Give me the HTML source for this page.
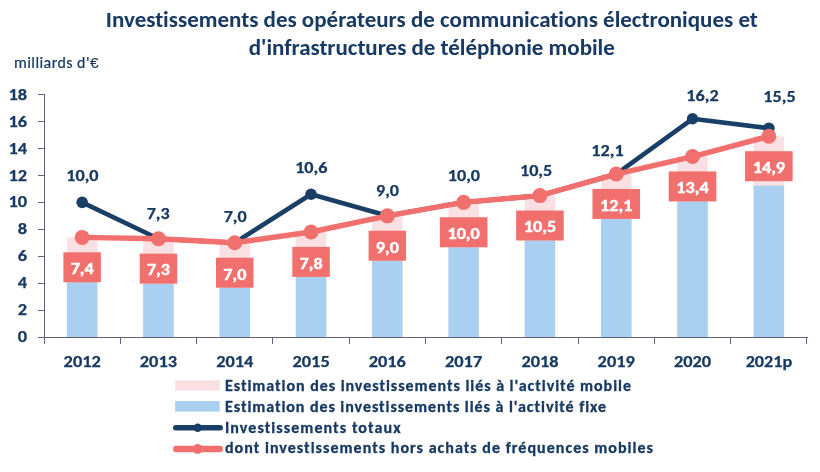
<!DOCTYPE html><html><head><meta charset="utf-8"><title>Investissements</title>
<style>html,body{margin:0;padding:0;background:#fff;width:820px;height:472px;overflow:hidden}svg{display:block}text{font-family:Carlito, 'Liberation Sans', sans-serif;font-variant-ligatures:none;font-feature-settings:"liga" 0,"clig" 0}</style></head><body>
<svg width="820" height="472" viewBox="0 0 820 472">
<rect width="820" height="472" fill="#fff"/>
<text x="431.8" y="26.9" text-anchor="middle" font-size="23" font-weight="bold" fill="#173963" textLength="652" lengthAdjust="spacing">Investissements des opérateurs de communications électroniques et</text>
<text x="431.8" y="54.8" text-anchor="middle" font-size="23" font-weight="bold" fill="#173963" textLength="366" lengthAdjust="spacing">d'infrastructures de téléphonie mobile</text>
<text x="14" y="67.6" font-size="16" fill="#173963" stroke="#173963" stroke-width="0.2" textLength="84.5" lengthAdjust="spacing">milliards d'<tspan font-family="'Liberation Sans', sans-serif" font-size="15.5">€</tspan></text>
<text x="27.0" y="342.2" text-anchor="end" font-size="16" font-weight="bold" fill="#173963" stroke="#173963" stroke-width="0.25" textLength="9.3" lengthAdjust="spacingAndGlyphs">0</text>
<text x="27.0" y="315.3" text-anchor="end" font-size="16" font-weight="bold" fill="#173963" stroke="#173963" stroke-width="0.25" textLength="9.3" lengthAdjust="spacingAndGlyphs">2</text>
<text x="27.0" y="288.3" text-anchor="end" font-size="16" font-weight="bold" fill="#173963" stroke="#173963" stroke-width="0.25" textLength="9.3" lengthAdjust="spacingAndGlyphs">4</text>
<text x="27.0" y="261.4" text-anchor="end" font-size="16" font-weight="bold" fill="#173963" stroke="#173963" stroke-width="0.25" textLength="9.3" lengthAdjust="spacingAndGlyphs">6</text>
<text x="27.0" y="234.4" text-anchor="end" font-size="16" font-weight="bold" fill="#173963" stroke="#173963" stroke-width="0.25" textLength="9.3" lengthAdjust="spacingAndGlyphs">8</text>
<text x="27.0" y="207.4" text-anchor="end" font-size="16" font-weight="bold" fill="#173963" stroke="#173963" stroke-width="0.25" textLength="18.6" lengthAdjust="spacingAndGlyphs">10</text>
<text x="27.0" y="180.5" text-anchor="end" font-size="16" font-weight="bold" fill="#173963" stroke="#173963" stroke-width="0.25" textLength="18.6" lengthAdjust="spacingAndGlyphs">12</text>
<text x="27.0" y="153.5" text-anchor="end" font-size="16" font-weight="bold" fill="#173963" stroke="#173963" stroke-width="0.25" textLength="18.6" lengthAdjust="spacingAndGlyphs">14</text>
<text x="27.0" y="126.6" text-anchor="end" font-size="16" font-weight="bold" fill="#173963" stroke="#173963" stroke-width="0.25" textLength="18.6" lengthAdjust="spacingAndGlyphs">16</text>
<text x="27.0" y="99.6" text-anchor="end" font-size="16" font-weight="bold" fill="#173963" stroke="#173963" stroke-width="0.25" textLength="18.6" lengthAdjust="spacingAndGlyphs">18</text>
<rect x="66.90" y="237.40" width="30.5" height="99.75" fill="#FBE0E3"/>
<rect x="66.90" y="282.30" width="30.5" height="54.85" fill="#A9D0F0"/>
<rect x="143.20" y="238.75" width="30.5" height="98.40" fill="#FBE0E3"/>
<rect x="143.20" y="283.65" width="30.5" height="53.50" fill="#A9D0F0"/>
<rect x="219.50" y="242.79" width="30.5" height="94.36" fill="#FBE0E3"/>
<rect x="219.50" y="287.69" width="30.5" height="49.46" fill="#A9D0F0"/>
<rect x="295.80" y="232.01" width="30.5" height="105.14" fill="#FBE0E3"/>
<rect x="295.80" y="276.91" width="30.5" height="60.24" fill="#A9D0F0"/>
<rect x="372.10" y="215.83" width="30.5" height="121.32" fill="#FBE0E3"/>
<rect x="372.10" y="260.73" width="30.5" height="76.42" fill="#A9D0F0"/>
<rect x="448.40" y="202.35" width="30.5" height="134.80" fill="#FBE0E3"/>
<rect x="448.40" y="247.25" width="30.5" height="89.90" fill="#A9D0F0"/>
<rect x="524.70" y="195.61" width="30.5" height="141.54" fill="#FBE0E3"/>
<rect x="524.70" y="240.51" width="30.5" height="96.64" fill="#A9D0F0"/>
<rect x="601.00" y="174.04" width="30.5" height="163.11" fill="#FBE0E3"/>
<rect x="601.00" y="218.94" width="30.5" height="118.21" fill="#A9D0F0"/>
<rect x="677.30" y="156.52" width="30.5" height="180.63" fill="#FBE0E3"/>
<rect x="677.30" y="201.42" width="30.5" height="135.73" fill="#A9D0F0"/>
<rect x="753.60" y="136.30" width="30.5" height="200.85" fill="#FBE0E3"/>
<rect x="753.60" y="185.60" width="30.5" height="151.55" fill="#A9D0F0"/>
<g stroke="#62627E" stroke-width="1" fill="none" shape-rendering="crispEdges">
<path d="M44.5 94.7V343.5M44.5 337.5H808"/>
<path d="M38 337.5H44.5"/>
<path d="M38 310.5H44.5"/>
<path d="M38 283.5H44.5"/>
<path d="M38 256.5H44.5"/>
<path d="M38 229.5H44.5"/>
<path d="M38 202.5H44.5"/>
<path d="M38 175.5H44.5"/>
<path d="M38 148.5H44.5"/>
<path d="M38 121.5H44.5"/>
<path d="M38 94.5H44.5"/>
<path d="M120.5 337.5V343.5"/>
<path d="M196.5 337.5V343.5"/>
<path d="M272.5 337.5V343.5"/>
<path d="M349.5 337.5V343.5"/>
<path d="M425.5 337.5V343.5"/>
<path d="M501.5 337.5V343.5"/>
<path d="M578.5 337.5V343.5"/>
<path d="M654.5 337.5V343.5"/>
<path d="M730.5 337.5V343.5"/>
<path d="M806.5 337.5V343.5"/>
</g>
<text x="82.2" y="366.8" text-anchor="middle" font-size="16" font-weight="bold" fill="#173963" stroke="#173963" stroke-width="0.25" textLength="37.2" lengthAdjust="spacingAndGlyphs">2012</text>
<text x="158.4" y="366.8" text-anchor="middle" font-size="16" font-weight="bold" fill="#173963" stroke="#173963" stroke-width="0.25" textLength="37.2" lengthAdjust="spacingAndGlyphs">2013</text>
<text x="234.8" y="366.8" text-anchor="middle" font-size="16" font-weight="bold" fill="#173963" stroke="#173963" stroke-width="0.25" textLength="37.2" lengthAdjust="spacingAndGlyphs">2014</text>
<text x="311.1" y="366.8" text-anchor="middle" font-size="16" font-weight="bold" fill="#173963" stroke="#173963" stroke-width="0.25" textLength="37.2" lengthAdjust="spacingAndGlyphs">2015</text>
<text x="387.3" y="366.8" text-anchor="middle" font-size="16" font-weight="bold" fill="#173963" stroke="#173963" stroke-width="0.25" textLength="37.2" lengthAdjust="spacingAndGlyphs">2016</text>
<text x="463.6" y="366.8" text-anchor="middle" font-size="16" font-weight="bold" fill="#173963" stroke="#173963" stroke-width="0.25" textLength="37.2" lengthAdjust="spacingAndGlyphs">2017</text>
<text x="540.0" y="366.8" text-anchor="middle" font-size="16" font-weight="bold" fill="#173963" stroke="#173963" stroke-width="0.25" textLength="37.2" lengthAdjust="spacingAndGlyphs">2018</text>
<text x="616.2" y="366.8" text-anchor="middle" font-size="16" font-weight="bold" fill="#173963" stroke="#173963" stroke-width="0.25" textLength="37.2" lengthAdjust="spacingAndGlyphs">2019</text>
<text x="692.5" y="366.8" text-anchor="middle" font-size="16" font-weight="bold" fill="#173963" stroke="#173963" stroke-width="0.25" textLength="37.2" lengthAdjust="spacingAndGlyphs">2020</text>
<text x="768.9" y="366.8" text-anchor="middle" font-size="16" font-weight="bold" fill="#173963" stroke="#173963" stroke-width="0.25" textLength="46.5" lengthAdjust="spacingAndGlyphs">2021p</text>
<polyline points="82.15,202.35 158.45,238.75 234.75,242.79 311.05,194.26 387.35,215.83 463.65,202.35 539.95,195.61 616.25,174.04 692.55,118.77 768.85,128.21" fill="none" stroke="#1A3F66" stroke-width="4.6" stroke-linejoin="round"/>
<circle cx="82.15" cy="202.35" r="5.8" fill="#1A3F66"/>
<circle cx="158.45" cy="238.75" r="5.8" fill="#1A3F66"/>
<circle cx="234.75" cy="242.79" r="5.8" fill="#1A3F66"/>
<circle cx="311.05" cy="194.26" r="5.8" fill="#1A3F66"/>
<circle cx="387.35" cy="215.83" r="5.8" fill="#1A3F66"/>
<circle cx="463.65" cy="202.35" r="5.8" fill="#1A3F66"/>
<circle cx="539.95" cy="195.61" r="5.8" fill="#1A3F66"/>
<circle cx="616.25" cy="174.04" r="5.8" fill="#1A3F66"/>
<circle cx="692.55" cy="118.77" r="5.8" fill="#1A3F66"/>
<circle cx="768.85" cy="128.21" r="5.8" fill="#1A3F66"/>
<polyline points="82.15,237.40 158.45,238.75 234.75,242.79 311.05,232.01 387.35,215.83 463.65,202.35 539.95,195.61 616.25,174.04 692.55,156.52 768.85,136.30" fill="none" stroke="#F1706E" stroke-width="5.4" stroke-linejoin="round"/>
<circle cx="82.15" cy="237.40" r="7.5" fill="#F1706E"/>
<circle cx="158.45" cy="238.75" r="7.5" fill="#F1706E"/>
<circle cx="234.75" cy="242.79" r="7.5" fill="#F1706E"/>
<circle cx="311.05" cy="232.01" r="7.5" fill="#F1706E"/>
<circle cx="387.35" cy="215.83" r="7.5" fill="#F1706E"/>
<circle cx="463.65" cy="202.35" r="7.5" fill="#F1706E"/>
<circle cx="539.95" cy="195.61" r="7.5" fill="#F1706E"/>
<circle cx="616.25" cy="174.04" r="7.5" fill="#F1706E"/>
<circle cx="692.55" cy="156.52" r="7.5" fill="#F1706E"/>
<circle cx="768.85" cy="136.30" r="7.5" fill="#F1706E"/>
<text x="82.4" y="181.2" text-anchor="middle" font-size="16" font-weight="bold" fill="#173963" stroke="#173963" stroke-width="0.25" textLength="32.3" lengthAdjust="spacingAndGlyphs">10,0</text>
<text x="158.2" y="218.8" text-anchor="middle" font-size="16" font-weight="bold" fill="#173963" stroke="#173963" stroke-width="0.25" textLength="23.0" lengthAdjust="spacingAndGlyphs">7,3</text>
<text x="235.2" y="221.6" text-anchor="middle" font-size="16" font-weight="bold" fill="#173963" stroke="#173963" stroke-width="0.25" textLength="23.0" lengthAdjust="spacingAndGlyphs">7,0</text>
<text x="311.3" y="172.9" text-anchor="middle" font-size="16" font-weight="bold" fill="#173963" stroke="#173963" stroke-width="0.25" textLength="32.3" lengthAdjust="spacingAndGlyphs">10,6</text>
<text x="387.5" y="195.8" text-anchor="middle" font-size="16" font-weight="bold" fill="#173963" stroke="#173963" stroke-width="0.25" textLength="23.0" lengthAdjust="spacingAndGlyphs">9,0</text>
<text x="463.9" y="180.9" text-anchor="middle" font-size="16" font-weight="bold" fill="#173963" stroke="#173963" stroke-width="0.25" textLength="32.3" lengthAdjust="spacingAndGlyphs">10,0</text>
<text x="536.1" y="175.9" text-anchor="middle" font-size="16" font-weight="bold" fill="#173963" stroke="#173963" stroke-width="0.25" textLength="32.3" lengthAdjust="spacingAndGlyphs">10,5</text>
<text x="607.5" y="155.7" text-anchor="middle" font-size="16" font-weight="bold" fill="#173963" stroke="#173963" stroke-width="0.25" textLength="32.3" lengthAdjust="spacingAndGlyphs">12,1</text>
<text x="702.5" y="101.0" text-anchor="middle" font-size="16" font-weight="bold" fill="#173963" stroke="#173963" stroke-width="0.25" textLength="32.3" lengthAdjust="spacingAndGlyphs">16,2</text>
<text x="779.5" y="101.7" text-anchor="middle" font-size="16" font-weight="bold" fill="#173963" stroke="#173963" stroke-width="0.25" textLength="32.3" lengthAdjust="spacingAndGlyphs">15,5</text>
<rect x="63.40" y="252.30" width="37.5" height="30.0" fill="#F1706E"/>
<text x="82.2" y="274.1" text-anchor="middle" font-size="16" font-weight="bold" fill="#fff" stroke="#fff" stroke-width="0.45" textLength="23.0" lengthAdjust="spacingAndGlyphs">7,4</text>
<rect x="139.70" y="253.65" width="37.5" height="30.0" fill="#F1706E"/>
<text x="158.4" y="275.4" text-anchor="middle" font-size="16" font-weight="bold" fill="#fff" stroke="#fff" stroke-width="0.45" textLength="23.0" lengthAdjust="spacingAndGlyphs">7,3</text>
<rect x="216.00" y="257.69" width="37.5" height="30.0" fill="#F1706E"/>
<text x="234.8" y="279.5" text-anchor="middle" font-size="16" font-weight="bold" fill="#fff" stroke="#fff" stroke-width="0.45" textLength="23.0" lengthAdjust="spacingAndGlyphs">7,0</text>
<rect x="292.30" y="246.91" width="37.5" height="30.0" fill="#F1706E"/>
<text x="311.1" y="268.7" text-anchor="middle" font-size="16" font-weight="bold" fill="#fff" stroke="#fff" stroke-width="0.45" textLength="23.0" lengthAdjust="spacingAndGlyphs">7,8</text>
<rect x="368.60" y="230.73" width="37.5" height="30.0" fill="#F1706E"/>
<text x="387.3" y="252.5" text-anchor="middle" font-size="16" font-weight="bold" fill="#fff" stroke="#fff" stroke-width="0.45" textLength="23.0" lengthAdjust="spacingAndGlyphs">9,0</text>
<rect x="439.85" y="217.25" width="47.6" height="30.0" fill="#F1706E"/>
<text x="463.6" y="239.0" text-anchor="middle" font-size="16" font-weight="bold" fill="#fff" stroke="#fff" stroke-width="0.45" textLength="32.3" lengthAdjust="spacingAndGlyphs">10,0</text>
<rect x="516.15" y="210.51" width="47.6" height="30.0" fill="#F1706E"/>
<text x="540.0" y="232.3" text-anchor="middle" font-size="16" font-weight="bold" fill="#fff" stroke="#fff" stroke-width="0.45" textLength="32.3" lengthAdjust="spacingAndGlyphs">10,5</text>
<rect x="592.45" y="188.94" width="47.6" height="30.0" fill="#F1706E"/>
<text x="616.2" y="210.7" text-anchor="middle" font-size="16" font-weight="bold" fill="#fff" stroke="#fff" stroke-width="0.45" textLength="32.3" lengthAdjust="spacingAndGlyphs">12,1</text>
<rect x="668.75" y="171.42" width="47.6" height="30.0" fill="#F1706E"/>
<text x="692.5" y="193.2" text-anchor="middle" font-size="16" font-weight="bold" fill="#fff" stroke="#fff" stroke-width="0.45" textLength="32.3" lengthAdjust="spacingAndGlyphs">13,4</text>
<rect x="745.05" y="151.20" width="47.6" height="30.0" fill="#F1706E"/>
<text x="768.9" y="173.0" text-anchor="middle" font-size="16" font-weight="bold" fill="#fff" stroke="#fff" stroke-width="0.45" textLength="32.3" lengthAdjust="spacingAndGlyphs">14,9</text>
<rect x="175.1" y="380.2" width="44.6" height="10.5" fill="#FBE0E3"/>
<rect x="175.1" y="401.1" width="44.6" height="10.5" fill="#A9D0F0"/>
<path d="M175.8 427.8H220.2" stroke="#1A3F66" stroke-width="5.5" stroke-linecap="round"/>
<circle cx="197.7" cy="427.8" r="4.2" fill="#1A3F66"/>
<path d="M176.3 449H219.7" stroke="#F1706E" stroke-width="6.5" stroke-linecap="round"/>
<circle cx="197.7" cy="449" r="5" fill="#F1706E"/>
<text x="225" y="390.7" font-size="16" font-weight="bold" fill="#173963" stroke="#173963" stroke-width="0.3" textLength="406" lengthAdjust="spacing">Estimation des investissements liés à l'activité mobile</text>
<text x="225" y="411.7" font-size="16" font-weight="bold" fill="#173963" stroke="#173963" stroke-width="0.3" textLength="381" lengthAdjust="spacing">Estimation des investissements liés à l'activité fixe</text>
<text x="225" y="432.6" font-size="16" font-weight="bold" fill="#173963" stroke="#173963" stroke-width="0.3" textLength="175.5" lengthAdjust="spacing">Investissements totaux</text>
<text x="225" y="453.3" font-size="16" font-weight="bold" fill="#173963" stroke="#173963" stroke-width="0.3" textLength="428" lengthAdjust="spacing">dont investissements hors achats de fréquences mobiles</text>
</svg></body></html>
